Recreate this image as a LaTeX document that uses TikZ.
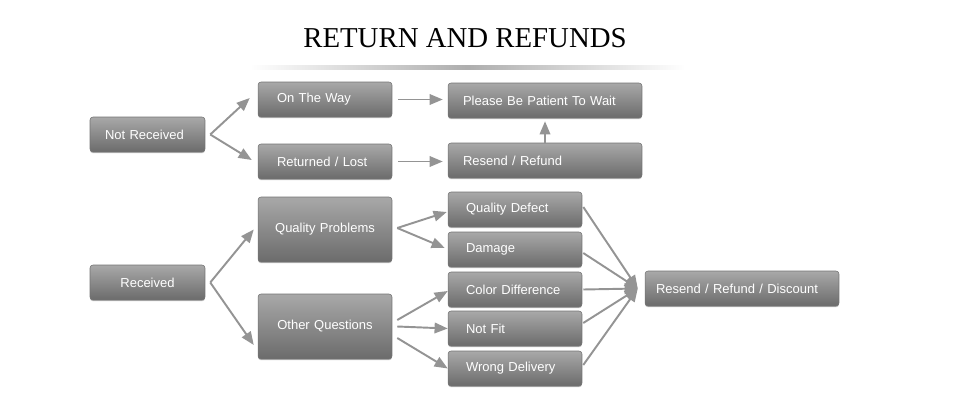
\documentclass[tikz,border=0pt]{standalone}
\usepackage{fontspec}
\setmainfont{Liberation Serif}
\setsansfont{Liberation Sans}
\usetikzlibrary{arrows.meta,shadows}

\begin{document}
\begin{tikzpicture}[x=0.02cm,y=-0.02cm,
  box/.style={rounded corners=0.06cm, draw=black!55, line width=0.3pt,
    top color=black!34, bottom color=black!58, text=white,
    font=\sffamily\fontsize{7.4}{9}\selectfont,
    inner xsep=0.38cm, inner ysep=0pt, minimum height=0.7cm,
    text width=1.92cm, align=left,
    drop shadow={shadow xshift=0pt,shadow yshift=-0.7pt,opacity=0.5}},
  wide/.style={inner xsep=0.3cm, text width=3.28cm},
  small/.style={inner xsep=0.3cm, text width=1.7cm},
  tall/.style={minimum height=1.3cm, inner xsep=0.3cm, text width=2.08cm, align=center},
  arr/.style={draw=black!42, line width=1.1pt, -{Triangle[length=7.5pt,width=6pt]}}]
  \useasboundingbox (0,0) rectangle (976,395);
  % Title and its shadow line
  \node[font=\fontsize{16.4}{18}\selectfont] (title) at (465,38) {RETURN AND REFUNDS};
  \shade[left color=white, right color=white, middle color=black!32] (250,66) rectangle (685,70);
  % Not received branch
  \node[box, small] (nr) at (147.5,134.5) {Not Received};
  \node[box] (otw) at (325,99.5) {On The Way};
  \node[box] (rl) at (325,161.5) {Returned / Lost};
  \node[box, wide] (pat) at (545,100.5) {Please Be Patient To Wait};
  \node[box, wide] (rr) at (545,160.5) {Resend / Refund};
  % Received branch
  \node[box, small, align=center] (rec) at (147.5,282.5) {Received};
  \node[box, tall] (qp) at (325,229.5) {Quality Problems};
  \node[box, tall] (oq) at (325,326.5) {Other Questions};
  \node[box, inner xsep=0.36cm, text width=1.96cm] (qd) at (515,209.5) {Quality Defect};
  \node[box, inner xsep=0.36cm, text width=1.96cm] (dam) at (515,249.5) {Damage};
  \node[box, inner xsep=0.36cm, text width=1.96cm] (cd) at (515,289.5) {Color Difference};
  \node[box, inner xsep=0.36cm, text width=1.96cm] (nf) at (515,328.5) {Not Fit};
  \node[box, inner xsep=0.36cm, text width=1.96cm] (wd) at (515,368.5) {Wrong Delivery};
  \node[box, wide, inner xsep=0.22cm, text width=3.44cm] (rrd) at (742,288.5) {Resend / Refund / Discount};
  % Arrows
  \draw[arr] ([xshift=0.1cm]nr.east) -- ([xshift=-0.16cm,yshift=0.03cm]otw.west);
  \draw[arr] ([xshift=0.1cm]nr.east) -- ([xshift=-0.12cm,yshift=0.03cm]rl.west);
  \draw[arr, shorten <=0.12cm, shorten >=0.1cm] (otw.east) -- (otw.east -| pat.west);
  \draw[arr, shorten <=0.12cm, shorten >=0.1cm] (rl.east) -- (rl.east -| rr.west);
  \draw[arr, shorten >=0.06cm] (rr.north) -- (pat.south);
  \draw[arr] ([xshift=0.1cm]rec.east) -- ([xshift=-0.08cm]qp.west);
  \draw[arr] ([xshift=0.1cm]rec.east) -- ([xshift=-0.08cm,yshift=-0.37cm]oq.west);
  \draw[arr] ([xshift=0.1cm,yshift=0.03cm]qp.east) -- ([xshift=-0.02cm,yshift=-0.05cm]qd.west);
  \draw[arr] ([xshift=0.1cm,yshift=0.03cm]qp.east) -- ([xshift=-0.06cm,yshift=0.03cm]dam.west);
  \draw[arr] ([xshift=0.1cm,yshift=0.13cm]oq.east) -- ([yshift=-0.03cm]cd.west);
  \draw[arr] ([xshift=0.1cm]oq.east) -- (nf.west);
  \draw[arr] ([xshift=0.1cm,yshift=-0.23cm]oq.east) -- (wd.west);
  \draw[arr] ([xshift=0.02cm,yshift=0.05cm]qd.east) -- ([xshift=-0.14cm]rrd.west);
  \draw[arr] ([xshift=0.02cm,yshift=-0.07cm]dam.east) -- ([xshift=-0.14cm]rrd.west);
  \draw[arr] ([xshift=0.02cm]cd.east) -- ([xshift=-0.14cm]rrd.west);
  \draw[arr] ([xshift=0.02cm,yshift=0.11cm]nf.east) -- ([xshift=-0.14cm]rrd.west);
  \draw[arr] ([xshift=0.02cm,yshift=0.07cm]wd.east) -- ([xshift=-0.14cm]rrd.west);
\end{tikzpicture}
\end{document}
